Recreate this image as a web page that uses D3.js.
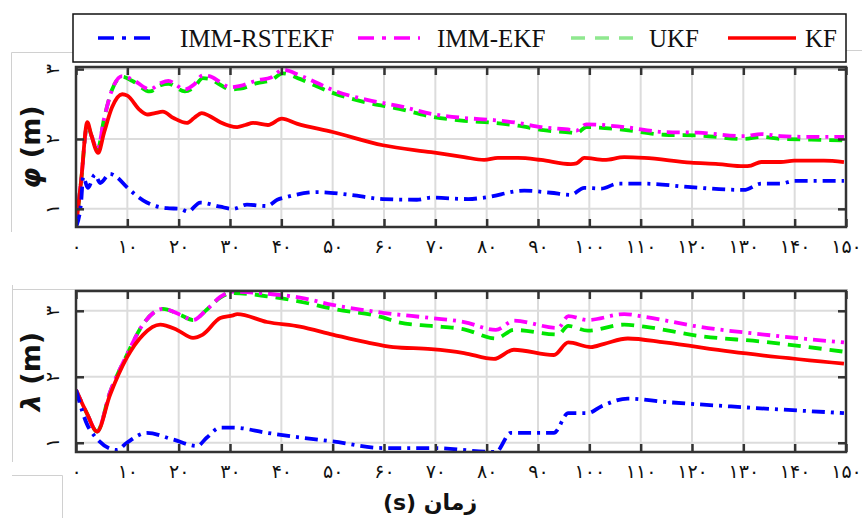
<!DOCTYPE html>
<html>
<head>
<meta charset="utf-8">
<script src="https://cdn.jsdelivr.net/npm/d3@7"></script>
<style>
  body { margin: 0; background: #fff; }
  svg { display: block; }
</style>
</head>
<body>
<svg id="chart" width="862" height="518"></svg>
<script>
// series names and x ticks
const seriesNames = ['IMM-RSTEKF', 'IMM-EKF', 'UKF', 'KF'];
const xTicks = [0, 10, 20, 30, 40, 50, 60, 70, 80, 90, 100, 110, 120, 130, 140, 150];
const yTicks = [1, 2, 3];

// φ panel: [time (s), error (m)]
const phiRst = [[0,0.74],[1,1.1],[1.4,1.46],[2.3,1.3],[3.7,1.49],[4.7,1.37],[6.6,1.5],[8,1.45],[9.9,1.31],[13.8,1.09],[17.7,1.01],[20.3,1.0],[21.8,0.96],[24.2,1.09],[28.1,1.03],[30.6,1.0],[33.3,1.06],[37.2,1.04],[39.2,1.13],[41.1,1.17],[47,1.24],[53.4,1.2],[59.8,1.14],[66.4,1.13],[69.2,1.16],[76.4,1.14],[79.5,1.16],[87.3,1.26],[92.5,1.23],[96.4,1.2],[99,1.3],[102.3,1.29],[105.6,1.36],[110.7,1.36],[119.8,1.31],[130.1,1.27],[133.5,1.36],[137.3,1.36],[139.9,1.4],[145.7,1.4],[149.6,1.4]];
const phiEkf = [[0,0.74],[1,1.4],[2.2,2.2],[3,2.05],[4.2,1.85],[5.5,2.3],[7,2.7],[9,2.9],[11,2.85],[14.4,2.71],[16.5,2.8],[18,2.83],[21.2,2.71],[23,2.78],[24.7,2.91],[26,2.9],[28,2.82],[30,2.74],[32,2.76],[35.3,2.84],[38,2.88],[40.3,2.99],[43.6,2.91],[47,2.8],[50,2.7],[56.7,2.56],[63,2.47],[69.2,2.36],[75.6,2.3],[81.4,2.27],[86.1,2.23],[90.6,2.17],[96.4,2.13],[97.5,2.12],[99.4,2.21],[106.8,2.17],[114.6,2.1],[121.2,2.09],[130.1,2.04],[133.5,2.07],[137.3,2.04],[143.2,2.03],[149.6,2.03]];
const phiUkf = [[0,0.74],[1,1.4],[2.2,2.2],[3,2.05],[4.2,1.85],[5.5,2.3],[7,2.7],[9,2.89],[11,2.83],[14.4,2.68],[16.5,2.77],[18,2.79],[21.2,2.68],[23,2.74],[24.7,2.87],[26,2.86],[28,2.78],[30,2.71],[32,2.72],[35.3,2.8],[38,2.84],[40.3,2.94],[43.6,2.86],[47,2.75],[50,2.66],[56.7,2.52],[63,2.43],[69.2,2.32],[75.6,2.26],[81.4,2.23],[86.1,2.19],[90.6,2.13],[96.4,2.09],[97.5,2.08],[99.4,2.17],[106.8,2.13],[114.6,2.06],[121.2,2.05],[130.1,2.0],[133.5,2.03],[137.3,2.0],[143.2,1.99],[149.6,1.98]];
const phiKf = [[0,0.74],[1,1.4],[2.2,2.24],[3,2.05],[4.3,1.8],[5.5,2.1],[7,2.45],[9,2.64],[10,2.62],[12.5,2.41],[14,2.35],[15.4,2.37],[16.9,2.39],[19,2.3],[21.6,2.23],[23,2.3],[24.5,2.37],[26,2.33],[28.1,2.24],[31.4,2.17],[33,2.2],[34.5,2.23],[37.4,2.2],[40.1,2.29],[43,2.22],[50,2.1],[59.8,1.91],[69.2,1.81],[75.6,1.74],[79.5,1.7],[82.2,1.73],[86.1,1.73],[90.6,1.7],[96.4,1.64],[97.5,1.65],[99,1.73],[102.9,1.7],[106.8,1.74],[110.7,1.73],[119.8,1.66],[125.1,1.64],[130.1,1.61],[131.5,1.62],[133.5,1.67],[137.3,1.67],[139.9,1.69],[145.7,1.69],[149.6,1.67]];

// λ panel
const lamRst = [[0,1.8],[2.7,1.2],[8,0.89],[9.9,1.0],[13.8,1.15],[18.9,1.05],[23.6,0.95],[25.5,1.08],[28.1,1.23],[30.6,1.23],[37.2,1.15],[43.6,1.08],[50,1.02],[59.8,0.92],[69.2,0.92],[81.8,0.86],[84.7,1.15],[93.1,1.15],[95.9,1.45],[99.7,1.45],[102.3,1.55],[107.5,1.67],[114.6,1.62],[127.6,1.55],[149.6,1.45]];
const lamEkf = [[0,1.8],[2.1,1.45],[4.1,1.17],[6.6,1.76],[9.9,2.33],[13.1,2.8],[16.9,3.03],[20.3,2.94],[22.8,2.86],[25.5,3.02],[28.1,3.21],[30.6,3.29],[37.2,3.26],[43.6,3.2],[50,3.09],[59.8,2.97],[69.2,2.89],[75.6,2.83],[81.8,2.71],[85.3,2.85],[93.9,2.74],[95.9,2.92],[99.7,2.86],[106.8,2.95],[110.7,2.91],[121.2,2.76],[134,2.64],[149.6,2.52]];
const lamUkf = [[0,1.8],[2.1,1.45],[4.1,1.17],[6.6,1.76],[9.9,2.33],[13.1,2.8],[16.9,3.03],[20.3,2.94],[22.8,2.86],[25.5,3.02],[28.1,3.2],[30.6,3.27],[37.2,3.22],[43.6,3.14],[50,3.03],[59.8,2.9],[63.1,2.82],[69.2,2.77],[75.6,2.72],[81.8,2.58],[85.3,2.71],[93.9,2.64],[95.9,2.77],[99.7,2.7],[106.8,2.79],[110.7,2.76],[121.2,2.62],[134,2.53],[149.6,2.38]];
const lamKf = [[0,1.8],[2.1,1.45],[4.1,1.17],[6.6,1.72],[9.9,2.29],[13.1,2.64],[16.4,2.79],[19.7,2.71],[22.8,2.59],[24.7,2.64],[28.1,2.89],[30.6,2.93],[31.4,2.95],[37.2,2.83],[43.6,2.76],[50,2.64],[56.7,2.52],[61.8,2.45],[69.2,2.42],[75.6,2.36],[81.4,2.27],[85.3,2.41],[93.1,2.33],[95.9,2.52],[100.3,2.45],[102.9,2.5],[107.5,2.58],[114.6,2.52],[127.6,2.38],[149.6,2.2]];

const fa = n => String(n).replace(/\d/g, d => '۰۱۲۳۴۵۶۷۸۹'[d]);

const styles = {
  'IMM-RSTEKF': { color: '#0000ff', dash: '13,6,3,6' },
  'IMM-EKF': { color: '#ff00ff', dash: '13,6,3,6' },
  'UKF': { color: '#00e600', dash: '13,8' },
  'KF': { color: '#ff0000', dash: null }
};

const svg = d3.select('#chart');

// faint frame lines from the source figure
const faint = svg.append('g').attr('stroke', '#d0d0d0').attr('stroke-width', 1).attr('fill', 'none');
faint.append('path').attr('d', 'M11.5,232 V52.5 H73');
faint.append('path').attr('d', 'M846,50.5 H862');
faint.append('path').attr('d', 'M12,289.5 H848');
faint.append('path').attr('d', 'M12.5,285 V462');
faint.append('path').attr('d', 'M12,475.5 H62.5 V518');

const x = d3.scaleLinear().domain([0, 150]).range([76, 846]);

function panel(top, bottom, yDomain, data, symbol, idx) {
  const y = d3.scaleLinear().domain(yDomain).range([bottom, top]);
  const g = svg.append('g');

  const clipId = 'clip' + idx;
  g.append('clipPath').attr('id', clipId).append('rect')
    .attr('x', 76).attr('y', top).attr('width', 770).attr('height', bottom - top);

  // grid
  g.append('g').selectAll('line').data(xTicks.slice(1, -1)).enter().append('line')
    .attr('x1', d => x(d)).attr('x2', d => x(d))
    .attr('y1', top).attr('y2', bottom)
    .attr('stroke', '#dcdcdc').attr('stroke-width', 2);
  g.append('g').selectAll('line').data(yTicks).enter().append('line')
    .attr('x1', 76).attr('x2', 846)
    .attr('y1', d => y(d)).attr('y2', d => y(d))
    .attr('stroke', '#dcdcdc').attr('stroke-width', 2);

  // lines
  const line = d3.line().x(d => x(d[0])).y(d => y(d[1])).curve(d3.curveMonotoneX);
  const order = ['UKF', 'IMM-EKF', 'KF', 'IMM-RSTEKF'];
  const lines = g.append('g').attr('clip-path', `url(#${clipId})`);
  order.forEach(name => {
    const s = styles[name];
    lines.append('path')
      .datum(data[name])
      .attr('d', line)
      .attr('fill', 'none')
      .attr('stroke', s.color)
      .attr('stroke-width', 3.8)
      .attr('stroke-dasharray', s.dash)
      .attr('stroke-linejoin', 'round');
  });

  // axes (ticks inward on all four sides)
  const axisCol = '#333';
  g.append('g').attr('transform', `translate(0,${bottom})`)
    .call(d3.axisBottom(x).tickValues(xTicks).tickSize(-8).tickPadding(13).tickFormat(fa))
    .call(a => {
      a.select('.domain').remove();
      a.selectAll('line').attr('stroke', axisCol).attr('stroke-width', 2.5);
      a.selectAll('text').attr('font-family', 'DejaVu Sans').attr('font-size', 19).attr('fill', '#111');
    });
  g.append('g').attr('transform', `translate(0,${top})`)
    .call(d3.axisTop(x).tickValues(xTicks).tickSize(-8).tickFormat(''))
    .call(a => {
      a.select('.domain').remove();
      a.selectAll('line').attr('stroke', axisCol).attr('stroke-width', 2.5);
    });
  g.append('g').attr('transform', 'translate(76,0)')
    .call(d3.axisLeft(y).tickValues(yTicks).tickSize(-8).tickFormat(''))
    .call(a => {
      a.select('.domain').remove();
      a.selectAll('line').attr('stroke', axisCol).attr('stroke-width', 2.5);
    });
  g.append('g').attr('transform', 'translate(846,0)')
    .call(d3.axisRight(y).tickValues(yTicks).tickSize(-8).tickFormat(''))
    .call(a => {
      a.select('.domain').remove();
      a.selectAll('line').attr('stroke', axisCol).attr('stroke-width', 2.5);
    });

  // rotated y tick labels
  g.append('g').selectAll('text').data(yTicks).enter().append('text')
    .attr('transform', d => `translate(59,${y(d)}) rotate(-90)`)
    .attr('text-anchor', 'middle')
    .attr('font-family', 'DejaVu Sans').attr('font-size', 19).attr('fill', '#111')
    .text(fa);

  g.append('rect')
    .attr('x', 76).attr('y', top).attr('width', 770).attr('height', bottom - top)
    .attr('fill', 'none').attr('stroke', axisCol).attr('stroke-width', 2.5);

  const t = g.append('text')
    .attr('transform', `translate(40,${(top + bottom) / 2}) rotate(-90)`)
    .attr('text-anchor', 'middle')
    .attr('font-family', 'DejaVu Sans').attr('font-weight', 'bold').attr('font-size', 27)
    .attr('fill', '#111');
  t.append('tspan').attr('font-style', 'italic').text(symbol);
  t.append('tspan').text(' (m)');
}

panel(67, 227, [0.74, 3.03],
  { 'IMM-RSTEKF': phiRst, 'IMM-EKF': phiEkf, 'UKF': phiUkf, 'KF': phiKf }, 'φ', 0);
panel(291, 452, [0.86, 3.30],
  { 'IMM-RSTEKF': lamRst, 'IMM-EKF': lamEkf, 'UKF': lamUkf, 'KF': lamKf }, 'λ', 1);

// x title
svg.append('text')
  .attr('x', 430).attr('y', 510)
  .attr('text-anchor', 'middle')
  .style('direction', 'rtl')
  .attr('font-family', 'DejaVu Sans').attr('font-weight', 'bold').attr('font-size', 22)
  .attr('fill', '#111')
  .text('زمان (s)');

// legend
const legend = svg.append('g');
legend.append('rect')
  .attr('x', 73).attr('y', 14).attr('width', 773).attr('height', 48)
  .attr('fill', '#fff').attr('stroke', '#111').attr('stroke-width', 1.5);
const legendPos = [
  { x1: 98, x2: 158, tx: 180 },
  { x1: 358, x2: 420, tx: 437 },
  { x1: 571, x2: 641, tx: 649 },
  { x1: 728, x2: 796, tx: 805 }
];
seriesNames.forEach((name, i) => {
  const p = legendPos[i];
  const s = styles[name];
  legend.append('line')
    .attr('x1', p.x1).attr('x2', p.x2).attr('y1', 38).attr('y2', 38)
    .attr('stroke', name === 'UKF' ? '#8fe88f' : s.color)
    .attr('stroke-width', 3.5)
    .attr('stroke-dasharray', name === 'IMM-RSTEKF' || name === 'IMM-EKF' ? '16,8,4,8' : (s.dash ? '14,10' : null));
  legend.append('text')
    .attr('x', p.tx).attr('y', 47)
    .attr('font-family', 'Liberation Serif').attr('font-size', 25).attr('fill', '#111')
    .text(name);
});
</script>
</body>
</html>
